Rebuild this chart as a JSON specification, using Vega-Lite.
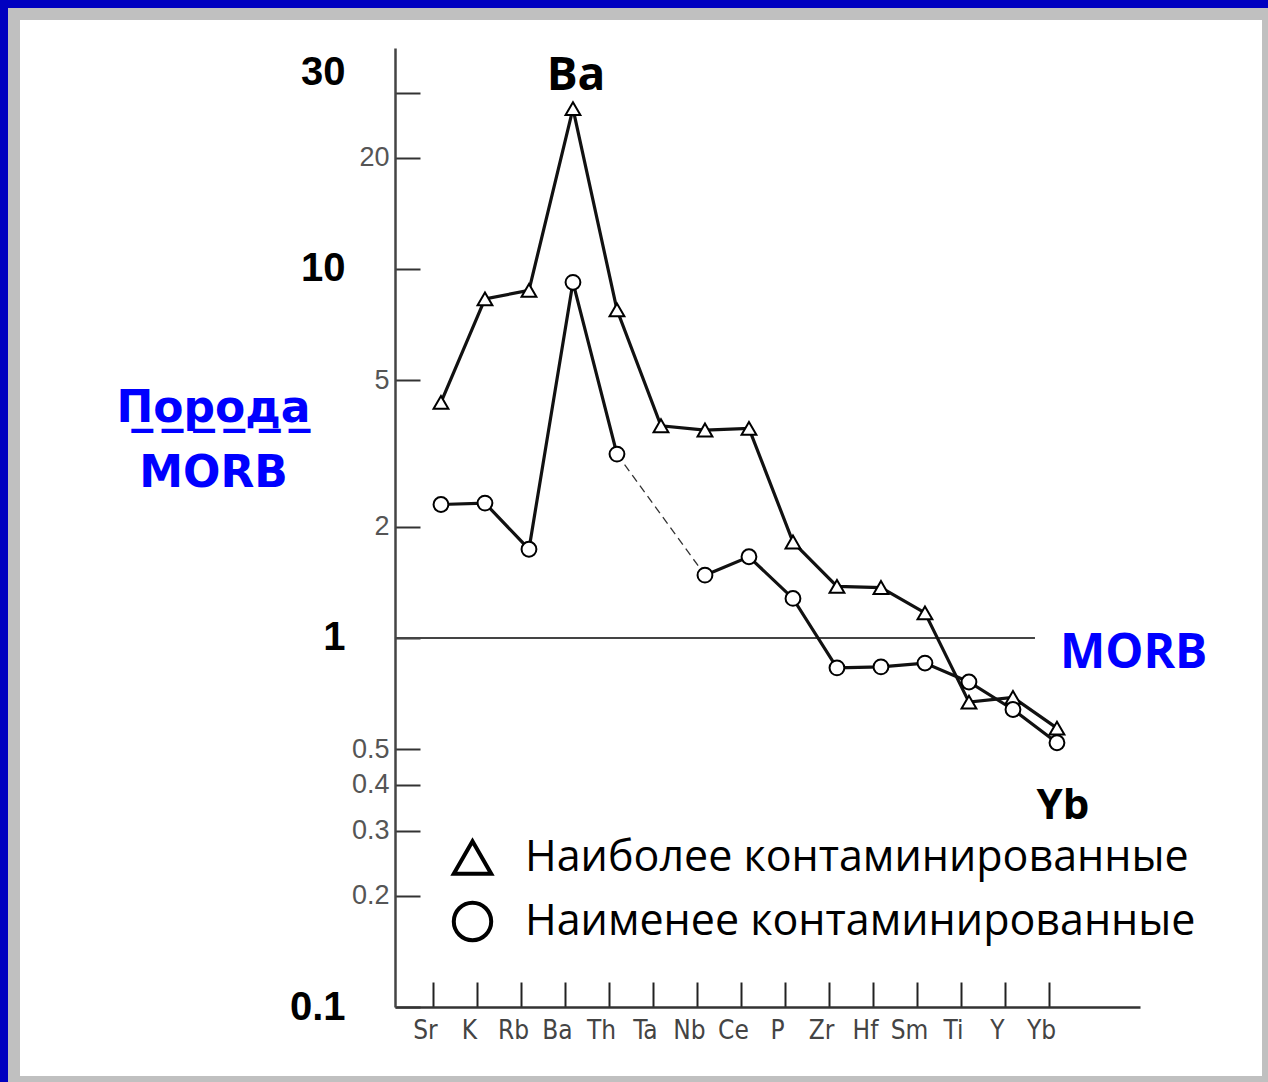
{
  "$schema": "https://vega.github.io/schema/vega-lite/v6.json",
  "width": 1254,
  "height": 1068,
  "autosize": {"type": "none"},
  "padding": {"left": 14, "top": 14, "right": 0, "bottom": 0},
  "background": "#0000c0",
  "config": {"view": {"stroke": "#c0c0c0", "strokeWidth": 12, "fill": "white"}},
  "data": {
    "values": [
      {"element": "Sr", "value": 4.35, "series": "Наиболее контаминированные", "segment": "A"},
      {"element": "K", "value": 8.3, "series": "Наиболее контаминированные", "segment": "A"},
      {"element": "Rb", "value": 8.75, "series": "Наиболее контаминированные", "segment": "A"},
      {"element": "Ba", "value": 27.2, "series": "Наиболее контаминированные", "segment": "A"},
      {"element": "Th", "value": 7.75, "series": "Наиболее контаминированные", "segment": "A"},
      {"element": "Ta", "value": 3.76, "series": "Наиболее контаминированные", "segment": "A"},
      {"element": "Nb", "value": 3.66, "series": "Наиболее контаминированные", "segment": "A"},
      {"element": "Ce", "value": 3.7, "series": "Наиболее контаминированные", "segment": "A"},
      {"element": "P", "value": 1.82, "series": "Наиболее контаминированные", "segment": "A"},
      {"element": "Zr", "value": 1.38, "series": "Наиболее контаминированные", "segment": "A"},
      {"element": "Hf", "value": 1.37, "series": "Наиболее контаминированные", "segment": "A"},
      {"element": "Sm", "value": 1.17, "series": "Наиболее контаминированные", "segment": "A"},
      {"element": "Ti", "value": 0.67, "series": "Наиболее контаминированные", "segment": "A"},
      {"element": "Y", "value": 0.69, "series": "Наиболее контаминированные", "segment": "A"},
      {"element": "Yb", "value": 0.57, "series": "Наиболее контаминированные", "segment": "A"},
      {"element": "Sr", "value": 2.3, "series": "Наименее контаминированные", "segment": "B1"},
      {"element": "K", "value": 2.32, "series": "Наименее контаминированные", "segment": "B1"},
      {"element": "Rb", "value": 1.74, "series": "Наименее контаминированные", "segment": "B1"},
      {"element": "Ba", "value": 9.2, "series": "Наименее контаминированные", "segment": "B1"},
      {"element": "Th", "value": 3.15, "series": "Наименее контаминированные", "segment": "B1"},
      {"element": "Th", "value": 3.15, "series": "Наименее контаминированные", "segment": "gap"},
      {"element": "Nb", "value": 1.48, "series": "Наименее контаминированные", "segment": "gap"},
      {"element": "Nb", "value": 1.48, "series": "Наименее контаминированные", "segment": "B2"},
      {"element": "Ce", "value": 1.66, "series": "Наименее контаминированные", "segment": "B2"},
      {"element": "P", "value": 1.28, "series": "Наименее контаминированные", "segment": "B2"},
      {"element": "Zr", "value": 0.83, "series": "Наименее контаминированные", "segment": "B2"},
      {"element": "Hf", "value": 0.835, "series": "Наименее контаминированные", "segment": "B2"},
      {"element": "Sm", "value": 0.855, "series": "Наименее контаминированные", "segment": "B2"},
      {"element": "Ti", "value": 0.76, "series": "Наименее контаминированные", "segment": "B2"},
      {"element": "Y", "value": 0.64, "series": "Наименее контаминированные", "segment": "B2"},
      {"element": "Yb", "value": 0.52, "series": "Наименее контаминированные", "segment": "B2"}
    ]
  },
  "encoding": {
    "x": {
      "field": "element",
      "type": "nominal",
      "scale": {
        "type": "band",
        "domain": ["Sr", "K", "Rb", "Ba", "Th", "Ta", "Nb", "Ce", "P", "Zr", "Hf", "Sm", "Ti", "Y", "Yb"],
        "range": [381, 1126],
        "paddingInner": 0,
        "paddingOuter": 0.966,
        "align": 0.282
      },
      "axis": {
        "orient": "bottom",
        "offset": -75,
        "title": null,
        "labelAngle": 0,
        "tickSize": -25,
        "tickWidth": 2,
        "tickColor": "#222",
        "tickOffset": -8,
        "labelOffset": -8,
        "domainColor": "#333",
        "domainWidth": 2.5,
        "labelFont": "Liberation Sans Narrow, DejaVu Sans Condensed, sans-serif",
        "labelFontSize": 26,
        "labelColor": "#444",
        "labelPadding": 35,
        "grid": false
      }
    },
    "y": {
      "field": "value",
      "type": "quantitative",
      "scale": {"type": "log", "domain": [0.1, 39.7], "range": [993, 34], "nice": false},
      "axis": {
        "orient": "left",
        "offset": -381,
        "values": [30, 20, 10, 5, 2, 1, 0.5, 0.4, 0.3, 0.2, 0.1],
        "labelExpr": "'' + datum.value",
        "tickSize": -25,
        "tickWidth": 2,
        "tickColor": "#333",
        "domainColor": "#444",
        "domainWidth": 2.5,
        "grid": false,
        "labelOverlap": false,
        "labelBaseline": "middle",
        "labelFont": "Liberation Sans",
        "labelFontSize": {"condition": {"test": "indexof([30,10,1,0.1], datum.value) >= 0", "value": 40}, "value": 27},
        "labelFontWeight": {"condition": {"test": "indexof([30,10,1,0.1], datum.value) >= 0", "value": "bold"}, "value": "normal"},
        "labelColor": {"condition": {"test": "indexof([30,10,1,0.1], datum.value) >= 0", "value": "black"}, "value": "#555"},
        "labelPadding": {"condition": {"test": "indexof([30,10,1,0.1], datum.value) >= 0", "value": 75}, "value": 31},
        "labelOffset": {"condition": {"test": "datum.value == 30", "value": -20}, "value": 0},
        "title": ["П\u0332о\u0332р\u0332о\u0332д\u0332а\u0332", "MORB"],
        "titleAngle": 0,
        "titleAlign": "center",
        "titleBaseline": "alphabetic",
        "titleX": -182,
        "titleY": 407,
        "titleFont": "DejaVu Sans",
        "titleFontSize": 44,
        "titleFontWeight": "bold",
        "titleColor": "#0000ff",
        "titleLineHeight": 65
      }
    }
  },
  "layer": [
    {
      "data": {"values": [{"reference": "MORB", "value": 1}]},
      "mark": {"type": "rule", "color": "#444", "strokeWidth": 2, "xOffset": -46, "x2Offset": -22},
      "encoding": {"x": {"datum": "Sr"}, "x2": {"datum": "Yb"}, "y": {"field": "value", "type": "quantitative"}}
    },
    {
      "data": {"values": [{"reference": "MORB", "value": 1}]},
      "mark": {"type": "text", "align": "left", "baseline": "middle", "dx": 3, "dy": 16, "font": "Open Sans", "fontSize": 48, "fontWeight": "bold", "color": "#0000ff"},
      "encoding": {"x": {"datum": "Yb"}, "y": {"field": "value", "type": "quantitative"}, "text": {"field": "reference"}}
    },
    {
      "transform": [{"filter": "datum.segment != 'gap'"}],
      "mark": {"type": "line", "color": "#111", "strokeWidth": 3.2},
      "encoding": {"detail": {"field": "segment"}, "order": {"value": null}}
    },
    {
      "transform": [{"filter": "datum.segment == 'gap'"}],
      "mark": {"type": "line", "color": "#333", "strokeWidth": 1.3, "strokeDash": [8, 5]},
      "encoding": {"detail": {"field": "segment"}, "order": {"value": null}}
    },
    {
      "transform": [{"filter": "datum.segment != 'gap'"}],
      "mark": {"type": "point", "filled": false, "fill": "white", "strokeWidth": 2, "size": 220},
      "encoding": {
        "color": {"value": "black"},
        "opacity": {"value": 1},
        "shape": {
          "field": "series",
          "type": "nominal",
          "scale": {"domain": ["Наиболее контаминированные", "Наименее контаминированные"], "range": ["triangle-up", "circle"]},
          "legend": {
            "orient": "none",
            "legendX": 437,
            "legendY": 822,
            "title": null,
            "symbolSize": 1400,
            "symbolStrokeWidth": 4,
            "labelFont": "Open Sans",
            "labelFontSize": 43,
            "labelColor": "black",
            "labelOffset": 31,
            "labelLimit": 900,
            "rowPadding": 12
          }
        }
      }
    },
    {
      "transform": [{"filter": "datum.element == 'Ba' && datum.segment == 'A'"}],
      "mark": {"type": "text", "dx": 3, "dy": -33, "baseline": "middle", "font": "Open Sans", "fontSize": 46, "fontWeight": "bold", "color": "black"},
      "encoding": {"text": {"field": "element"}}
    },
    {
      "transform": [{"filter": "datum.element == 'Yb' && datum.segment == 'B2'"}],
      "mark": {"type": "text", "dx": 6, "dy": 63, "baseline": "middle", "font": "Open Sans", "fontSize": 42, "fontWeight": "bold", "color": "black"},
      "encoding": {"text": {"field": "element"}}
    }
  ]
}
